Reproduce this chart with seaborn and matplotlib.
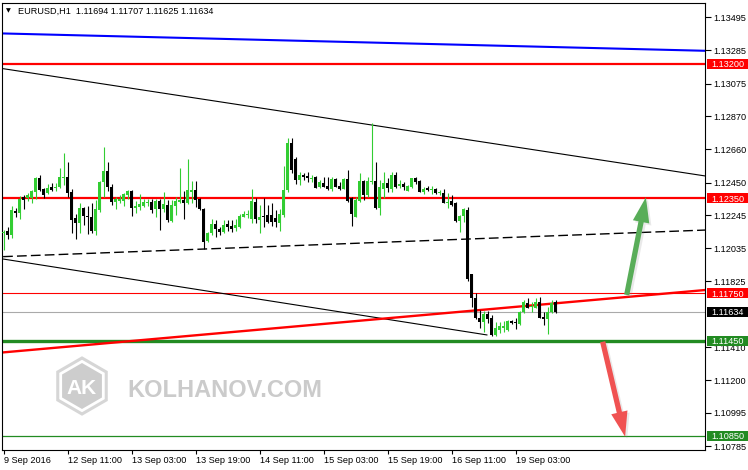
import numpy as np
import pandas as pd
import matplotlib
matplotlib.use('Agg')
import matplotlib.pyplot as plt
import matplotlib.transforms as mtransforms
from matplotlib.patches import FancyArrowPatch, RegularPolygon, Rectangle
import seaborn as sns

# EURUSD H1 candles, 9 Sep 2016 19:00 .. 19 Sep 2016 13:00
opens = [
    1.12130, 1.12144, 1.12119, 1.12273, 1.12256, 1.12357, 1.12351, 1.12351, 1.12393, 1.12481,
    1.12410, 1.12382, 1.12419, 1.12414, 1.12419, 1.12481, 1.12484, 1.12391, 1.12229, 1.12197,
    1.12292, 1.12239, 1.12235, 1.12144, 1.12277, 1.12454, 1.12524, 1.12425, 1.12330, 1.12336,
    1.12334, 1.12372, 1.12399, 1.12288, 1.12294, 1.12304, 1.12323, 1.12326, 1.12281, 1.12334,
    1.12283, 1.12309, 1.12208, 1.12302, 1.12330, 1.12340, 1.12319, 1.12393, 1.12401, 1.12347,
    1.12281, 1.12081, 1.12130, 1.12189, 1.12157, 1.12140, 1.12189, 1.12176, 1.12161, 1.12172,
    1.12235, 1.12245, 1.12218, 1.12330, 1.12214, 1.12239, 1.12245, 1.12245, 1.12224, 1.12193,
    1.12245, 1.12401, 1.12699, 1.12597, 1.12467, 1.12498, 1.12492, 1.12475, 1.12488, 1.12419,
    1.12450, 1.12431, 1.12408, 1.12473, 1.12431, 1.12410, 1.12473, 1.12351, 1.12235, 1.12334,
    1.12463, 1.12372, 1.12454, 1.12460, 1.12292, 1.12410, 1.12450, 1.12408, 1.12498, 1.12431,
    1.12443, 1.12399, 1.12425, 1.12477, 1.12460, 1.12393, 1.12414, 1.12401, 1.12408, 1.12382,
    1.12382, 1.12323, 1.12334, 1.12323, 1.12209, 1.12239, 1.12277, 1.11870, 1.11723, 1.11596,
    1.11571, 1.11617, 1.11592, 1.11487, 1.11518, 1.11529, 1.11518, 1.11575, 1.11569, 1.11554,
    1.11634, 1.11691, 1.11662, 1.11660, 1.11697, 1.11603, 1.11586, 1.11634, 1.11694]
highs = [
    1.12151, 1.12172, 1.12302, 1.12288, 1.12366, 1.12372, 1.12387, 1.12401, 1.12488, 1.12498,
    1.12414, 1.12443, 1.12450, 1.12450, 1.12540, 1.12640, 1.12581, 1.12408, 1.12250, 1.12323,
    1.12298, 1.12302, 1.12319, 1.12340, 1.12463, 1.12677, 1.12583, 1.12443, 1.12361, 1.12372,
    1.12382, 1.12401, 1.12401, 1.12334, 1.12378, 1.12345, 1.12347, 1.12345, 1.12347, 1.12347,
    1.12393, 1.12340, 1.12340, 1.12357, 1.12545, 1.12397, 1.12597, 1.12463, 1.12460, 1.12351,
    1.12288, 1.12140, 1.12220, 1.12214, 1.12172, 1.12214, 1.12214, 1.12214, 1.12218, 1.12250,
    1.12273, 1.12277, 1.12410, 1.12351, 1.12309, 1.12351, 1.12309, 1.12319, 1.12277, 1.12281,
    1.12555, 1.12730, 1.12730, 1.12614, 1.12519, 1.12509, 1.12519, 1.12498, 1.12492, 1.12467,
    1.12488, 1.12488, 1.12488, 1.12477, 1.12456, 1.12477, 1.12530, 1.12361, 1.12361, 1.12509,
    1.12467, 1.12488, 1.12825, 1.12578, 1.12467, 1.12515, 1.12477, 1.12515, 1.12519, 1.12467,
    1.12456, 1.12435, 1.12481, 1.12484, 1.12467, 1.12419, 1.12429, 1.12429, 1.12414, 1.12401,
    1.12410, 1.12386, 1.12372, 1.12330, 1.12245, 1.12287, 1.12298, 1.11875, 1.11750, 1.11645,
    1.11638, 1.11638, 1.11613, 1.11571, 1.11571, 1.11575, 1.11582, 1.11582, 1.11596, 1.11638,
    1.11708, 1.11719, 1.11697, 1.11719, 1.11730, 1.11634, 1.11666, 1.11708, 1.11707]
lows = [
    1.12024, 1.12094, 1.12098, 1.12235, 1.12218, 1.12281, 1.12334, 1.12319, 1.12347, 1.12399,
    1.12355, 1.12378, 1.12397, 1.12397, 1.12414, 1.12435, 1.12357, 1.12130, 1.12092, 1.12134,
    1.12180, 1.12123, 1.12130, 1.12119, 1.12267, 1.12361, 1.12397, 1.12309, 1.12281, 1.12323,
    1.12302, 1.12345, 1.12241, 1.12256, 1.12277, 1.12294, 1.12302, 1.12256, 1.12235, 1.12151,
    1.12267, 1.12203, 1.12203, 1.12245, 1.12319, 1.12220, 1.12313, 1.12319, 1.12298, 1.12277,
    1.12028, 1.12077, 1.12119, 1.12109, 1.12119, 1.12130, 1.12144, 1.12140, 1.12144, 1.12161,
    1.12231, 1.12224, 1.12193, 1.12193, 1.12134, 1.12172, 1.12193, 1.12176, 1.12172, 1.12144,
    1.12235, 1.12393, 1.12509, 1.12443, 1.12435, 1.12467, 1.12456, 1.12456, 1.12414, 1.12414,
    1.12421, 1.12401, 1.12397, 1.12419, 1.12401, 1.12408, 1.12330, 1.12176, 1.12231, 1.12330,
    1.12340, 1.12361, 1.12443, 1.12281, 1.12245, 1.12351, 1.12393, 1.12393, 1.12414, 1.12414,
    1.12401, 1.12397, 1.12414, 1.12443, 1.12389, 1.12378, 1.12399, 1.12378, 1.12378, 1.12372,
    1.12319, 1.12288, 1.12302, 1.12200, 1.12140, 1.12203, 1.11830, 1.11666, 1.11588, 1.11529,
    1.11508, 1.11565, 1.11483, 1.11483, 1.11497, 1.11508, 1.11514, 1.11556, 1.11525, 1.11550,
    1.11624, 1.11660, 1.11630, 1.11655, 1.11596, 1.11550, 1.11493, 1.11624, 1.11625]
closes = [
    1.12140, 1.12119, 1.12277, 1.12256, 1.12347, 1.12340, 1.12372, 1.12399, 1.12481, 1.12401,
    1.12372, 1.12414, 1.12401, 1.12425, 1.12484, 1.12484, 1.12387, 1.12214, 1.12197, 1.12292,
    1.12241, 1.12231, 1.12144, 1.12286, 1.12456, 1.12524, 1.12419, 1.12330, 1.12345, 1.12345,
    1.12378, 1.12399, 1.12288, 1.12304, 1.12313, 1.12326, 1.12330, 1.12277, 1.12334, 1.12281,
    1.12315, 1.12214, 1.12309, 1.12334, 1.12340, 1.12319, 1.12401, 1.12401, 1.12340, 1.12281,
    1.12077, 1.12130, 1.12189, 1.12155, 1.12140, 1.12183, 1.12172, 1.12159, 1.12183, 1.12239,
    1.12252, 1.12247, 1.12336, 1.12218, 1.12235, 1.12231, 1.12203, 1.12203, 1.12203, 1.12250,
    1.12401, 1.12703, 1.12530, 1.12467, 1.12498, 1.12488, 1.12481, 1.12481, 1.12414, 1.12452,
    1.12425, 1.12408, 1.12473, 1.12425, 1.12410, 1.12473, 1.12334, 1.12250, 1.12340, 1.12463,
    1.12372, 1.12463, 1.12460, 1.12288, 1.12419, 1.12450, 1.12414, 1.12498, 1.12425, 1.12443,
    1.12425, 1.12429, 1.12477, 1.12456, 1.12393, 1.12408, 1.12401, 1.12410, 1.12382, 1.12387,
    1.12323, 1.12330, 1.12308, 1.12209, 1.12239, 1.12281, 1.11840, 1.11723, 1.11592, 1.11571,
    1.11617, 1.11586, 1.11487, 1.11533, 1.11546, 1.11546, 1.11575, 1.11565, 1.11561, 1.11634,
    1.11697, 1.11660, 1.11670, 1.11697, 1.11596, 1.11586, 1.11634, 1.11691, 1.11634]

time_ticks = [0, 16, 32, 48, 64, 80, 96, 112, 128]
time_labels = ['9 Sep 2016', '12 Sep 11:00', '13 Sep 03:00', '13 Sep 19:00', '14 Sep 11:00',
               '15 Sep 03:00', '15 Sep 19:00', '16 Sep 11:00', '19 Sep 03:00']
price_ticks = [1.13495, 1.13285, 1.13075, 1.12870, 1.12660, 1.12450, 1.12245, 1.12035,
               1.11825, 1.11410, 1.11200, 1.10995, 1.10785]

# drawn objects (bar index, price)
blue_line = ([-0.9, 175.4], [1.13393, 1.13283])
channel_top = ([-0.1, 175.4], [1.13170, 1.12492])
channel_bottom = ([-0.1, 120.9], [1.11967, 1.11487])
channel_mid = ([-0.1, 175.4], [1.11982, 1.12150])
red_trend = ([-0.9, 175.4], [1.11375, 1.11771])
red_levels = [1.13200, 1.12350]
thin_red_level = 1.11750
green_levels = [1.11450, 1.10850]
bid = 1.11634
up_arrow = ((155.8, 1.11740), (160.6, 1.12357))
down_arrow = ((149.8, 1.11444), (155.4, 1.10844))
price_tags = [1.13200, 1.12350, 1.11750, 1.11634, 1.11450, 1.10850]
tag_colors = ['#ff0000', '#ff0000', '#ff0000', '#000000', '#228b22', '#228b22']

sns.set_style('white')
plt.rcParams['font.family'] = ['Liberation Sans', 'DejaVu Sans']

df = pd.DataFrame({'open': opens, 'high': highs, 'low': lows, 'close': closes})
df['bar'] = np.arange(len(df))
df['up'] = df['close'] >= df['open']

fig = plt.figure(figsize=(7.48, 4.70), dpi=100, facecolor='white')
ax = fig.add_axes([2 / 748, 20 / 470, 703 / 748, 447 / 470])
ax.set_facecolor('white')
ax.set_xlim(-0.375, 175.375)
ax.set_ylim(1.10760, 1.13585)

# level lines
ax.plot(*blue_line, color='#0000ff', lw=1.5, zorder=2)
for lv in red_levels:
    ax.axhline(lv, color='#ff0000', lw=1.6, zorder=2)
ax.axhline(thin_red_level, color='#ff0000', lw=0.8, zorder=2)
ax.axhline(green_levels[0], color='#228b22', lw=2.4, zorder=2)
ax.axhline(green_levels[1], color='#228b22', lw=0.9, zorder=2)
ax.axhline(bid, color='#aaaaaa', lw=0.8, zorder=2)
ax.plot(*channel_top, color='black', lw=0.8, zorder=2)
ax.plot(*channel_bottom, color='black', lw=0.8, zorder=2)
ax.plot(*channel_mid, color='black', lw=1.0, ls=(0, (7, 3)), zorder=2)
ax.plot(*red_trend, color='#ff0000', lw=1.7, zorder=2)

# candles
colors = np.where(df['up'], '#32cd32', '#000000')
ax.vlines(df['bar'], df['low'], df['high'], colors=colors, lw=0.8, zorder=3)
body_low = df[['open', 'close']].min(axis=1)
body_h = (df['close'] - df['open']).abs().clip(lower=0.00006)
ax.bar(df['bar'], body_h, bottom=body_low, width=0.75, color=colors, lw=0, zorder=4)

# arrows with a soft shadow
shadow = ax.transData + mtransforms.ScaledTranslation(1.5 / 72, -1.5 / 72, fig.dpi_scale_trans)
style = 'simple,head_length=18,head_width=12,tail_width=3.8'
for (p0, p1), col in [(up_arrow, '#58ad58'), (down_arrow, '#f05252')]:
    ax.add_patch(FancyArrowPatch(p0, p1, arrowstyle=style, mutation_scale=1, color='#888888',
                                 alpha=0.18, lw=0, shrinkA=0, shrinkB=0, transform=shadow, zorder=5))
    ax.add_patch(FancyArrowPatch(p0, p1, arrowstyle=style, mutation_scale=1, color=col,
                                 lw=0, shrinkA=0, shrinkB=0, zorder=6))

# axes, ticks
for s in ax.spines.values():
    s.set_color('black')
    s.set_linewidth(0.8)
ax.yaxis.tick_right()
ax.set_yticks(price_ticks)
ax.set_yticklabels([f'{v:.5f}' for v in price_ticks])
ax.set_xticks(time_ticks)
ax.set_xticklabels(time_labels)
for lbl in ax.get_xticklabels():
    lbl.set_horizontalalignment('left')
ax.tick_params(axis='y', right=True, left=False, direction='out', length=4, width=0.8,
               pad=2, labelsize=6.6, colors='black')
ax.tick_params(axis='x', bottom=True, direction='out', length=3, width=0.8,
               pad=1.5, labelsize=6.6, colors='black')
ax.grid(False)

# price tags on the right scale
trans = mtransforms.blended_transform_factory(ax.transAxes, ax.transData)
tag_h = 10 / 447 * (1.13585 - 1.10760)
for val, fc in zip(price_tags, tag_colors):
    ax.add_patch(Rectangle((1 + 2 / 703, val - tag_h / 2), 42 / 703, tag_h, transform=trans,
                           fc=fc, ec='none', clip_on=False, zorder=10))
    ax.text(1 + 6 / 703, val, f'{val:.5f}', transform=trans, ha='left', va='center_baseline',
            fontsize=6.6, color='white', zorder=11, clip_on=False)

# header
fig.text(6 / 748, 1 - 10.5 / 470, '\u25bc', fontsize=4.5, family='DejaVu Sans',
         va='center', color='black')
fig.text(18 / 748, 1 - 10 / 470, 'EURUSD,H1  1.11694 1.11707 1.11625 1.11634',
         fontsize=6.6, va='center_baseline', color='black')

# watermark
px = mtransforms.IdentityTransform()
fig.add_artist(RegularPolygon((82, 470 - 386), 6, radius=28, transform=px, fc='none',
                              ec='#d6d6d6', lw=2.2, zorder=4))
fig.add_artist(RegularPolygon((82, 470 - 386), 6, radius=23, transform=px, fc='#cdcdcd',
                              ec='none', zorder=4))
fig.text(82 / 748, 1 - 388 / 470, 'AK', fontsize=15, weight='bold', color='white',
         ha='center', va='center', zorder=5)
fig.text(127 / 748, 1 - 397 / 470, 'KOLHANOV.COM', fontsize=17, weight='bold',
         color='#cbcbcb', ha='left', va='baseline', zorder=5)

fig.savefig('out.png', dpi=100, facecolor='white')
